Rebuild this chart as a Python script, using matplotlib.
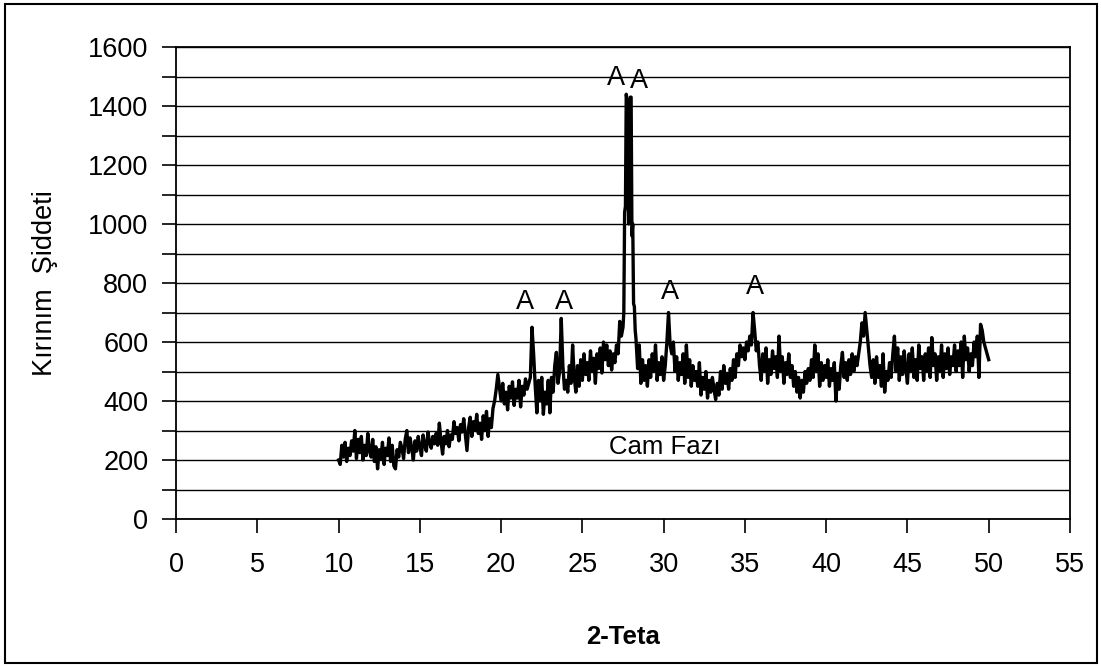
import numpy as np
import matplotlib
matplotlib.use("Agg")
import matplotlib.pyplot as plt
from matplotlib.patches import Rectangle

plt.rcParams['font.family'] = ['Liberation Sans', 'DejaVu Sans']

# 2-teta 10.0 - 27.4 (0.1 adim)
theta_low = np.arange(100, 275) / 10
counts_low = [
    200, 185, 250, 210, 260, 195, 240, 215, 265, 230,
    300, 205, 270, 225, 280, 200, 250, 215, 290, 230,
    210, 270, 195, 245, 170, 235, 205, 260, 185, 240,
    215, 275, 195, 250, 180, 170, 235, 210, 260, 240,
    205, 270, 300, 225, 275, 240, 200, 265, 230, 280,
    245, 215, 285, 250, 230, 295, 260, 240, 280, 255,
    290, 250, 325, 265, 220, 280, 255, 300, 245, 285,
    270, 330, 290, 310, 265, 320, 295, 340, 285, 232,
    310, 345, 280, 330, 300, 355, 290, 325, 270, 350,
    300, 365, 280, 340, 310, 375, 400, 440, 490, 445,
    400, 460, 390, 430, 370, 450, 410, 465, 385, 440,
    410, 470, 380, 450, 420, 475, 440, 460, 480, 650,
    560, 450, 360, 470, 400, 480, 355, 430, 390, 470,
    360, 480, 430, 520, 565, 460, 500, 680, 520, 440,
    470, 430, 520, 460, 590, 480, 430, 520, 450, 540,
    470, 560, 490, 530, 470, 570, 500, 545, 460, 560,
    510, 580, 495, 600, 540, 590, 520, 570, 505, 560,
    530, 590, 560, 670, 620,
]

# ana pik bolgesi 27.5 - 28.4 (0.05 adim)
theta_peak = np.arange(550, 569) / 20
counts_peak = [650, 700, 1040, 1060, 1440, 1420, 1150, 1000, 1300, 1430,
               1430, 960, 1000, 730, 720, 640, 610, 560, 510]

# 2-teta 28.5 - 50.0 (0.1 adim)
theta_high = np.arange(285, 501) / 10
counts_high = [
    590, 460, 540, 470, 520,
    450, 540, 480, 560, 500, 590, 470, 530, 490, 550,
    470, 520, 600, 700, 590, 560, 600, 500, 550, 470,
    530, 490, 560, 460, 590, 480, 540, 450, 520, 470,
    500, 450, 530, 420, 480, 440, 500, 410, 470, 430,
    480, 440, 405, 460, 420, 500, 440, 520, 460, 490,
    440, 510, 470, 540, 480, 560, 520, 590, 550, 580,
    540, 600, 570, 620, 590, 700, 640, 570, 600, 520,
    470, 560, 500, 580, 460, 540, 490, 570, 510, 550,
    480, 620, 500, 550, 460, 530, 490, 560, 480, 520,
    450, 500, 430, 480, 410, 470, 430, 500, 460, 510,
    470, 540, 480, 590, 500, 560, 450, 530, 470, 520,
    480, 540, 450, 510, 470, 530, 400, 490, 440, 520,
    565, 480, 530, 470, 540, 490, 560, 500, 550, 520,
    560, 600, 665, 620, 700, 640, 580, 520, 480, 540,
    460, 550, 480, 520, 450, 560, 430, 500, 470, 530,
    480, 560, 620, 500, 580, 470, 550, 490, 570, 510,
    460, 560, 500, 580, 480, 540, 470, 590, 510, 550,
    470, 560, 500, 580, 480, 615, 520, 560, 470, 550,
    500, 590, 480, 560, 510, 580, 490, 550, 520, 590,
    500, 570, 520, 600, 480, 620, 540, 580, 500, 560,
    520, 600, 550, 620, 480, 660, 640, 600, 580, 560,
    540,
]

# pik etiketleri (A) ve konumlari
label_x = [21.5, 23.9, 27.1, 28.5, 30.4, 35.6]
label_y = [735, 735, 1495, 1485, 770, 785]

theta = np.concatenate([theta_low, theta_peak, theta_high])
counts = np.concatenate([counts_low, counts_peak, counts_high])

fig = plt.figure(figsize=(11.01, 6.66), dpi=100)
ax = fig.add_axes([0.1599, 0.2207, 0.8119, 0.7087])

ax.plot(theta, counts, color='black', lw=2.4)

ax.set_xlim(0, 55)
ax.set_ylim(0, 1600)
ax.set_xticks(np.arange(0, 56, 5))
ax.set_yticks(np.arange(0, 1601, 200))
ax.set_yticks(np.arange(100, 1600, 200), minor=True)
ax.grid(axis='y', which='both', color='black', lw=1.0)
ax.set_axisbelow(True)
for s in ax.spines.values():
    s.set_linewidth(1.3)
    s.set_color('black')
ax.tick_params(axis='both', which='both', direction='out', length=10, width=1.2,
               labelsize=19.5, colors='black')
ax.tick_params(axis='y', pad=10)
ax.tick_params(axis='x', pad=14)

for xx, yy in zip(label_x, label_y):
    ax.text(xx, yy, 'A', ha='center', va='center', fontsize=19.5)
ax.text(30.1, 244, 'Cam Fazı', ha='center', va='center', fontsize=18.5)

fig.text(45 / 1101, 1 - 283 / 666, 'Kırınım  Şiddeti', rotation=90,
         ha='center', va='center', fontsize=19.5)
fig.text(623 / 1101, 1 - 637 / 666, '2-Teta', ha='center', va='center',
         fontsize=18.5, fontweight='bold')

# dis cerceve
fig.patches.append(Rectangle((5 / 1101, 3 / 666), 1092 / 1101, 659 / 666,
                             transform=fig.transFigure, fill=False,
                             edgecolor='black', lw=1.5))

fig.savefig('out.png', dpi=100)
